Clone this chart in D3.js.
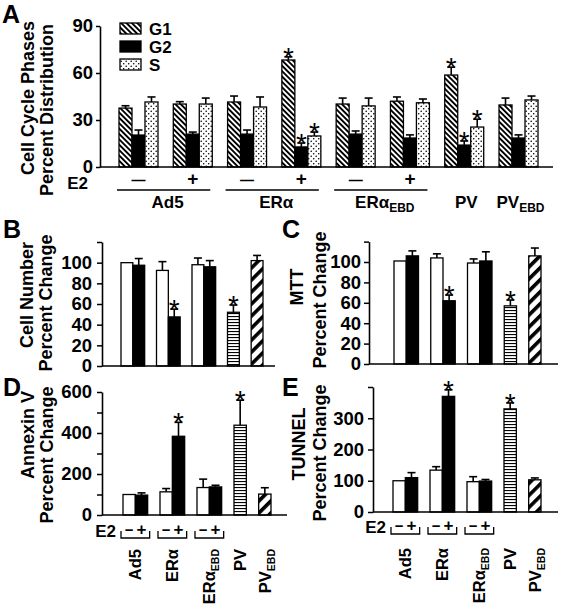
<!DOCTYPE html>
<html><head><meta charset="utf-8">
<script src="https://cdn.jsdelivr.net/npm/d3@7"></script>
<style>
body{margin:0;background:#fff}
svg{display:block}
text{font-family:"Liberation Sans",Arial,sans-serif;font-weight:bold;fill:#000}
</style>
</head><body>
<svg id="chart" width="564" height="604"></svg>
<script>
// ---------- Panel A data ----------
const groupsA = ["Ad5−","Ad5+","ERα−","ERα+","ERαEBD−","ERαEBD+","PV","PVEBD"];
const phases = ["G1","G2","S"];
const g1Values = [37.6, 40.2, 41.5, 68.3, 40.2, 42.0, 58.7, 39.6];
const g1Errors = [1.5, 1.5, 3.8, 2.0, 3.8, 2.7, 5.0, 4.4];
const g2Values = [20.4, 21.0, 21.0, 12.8, 21.0, 18.5, 14.0, 18.5];
const g2Errors = [3.2, 1.3, 2.6, 2.5, 2.0, 2.0, 2.6, 2.0];
const sValues  = [41.5, 40.2, 38.3, 19.8, 39.0, 41.0, 25.5, 42.8];
const sErrors  = [3.2, 3.8, 6.4, 2.5, 5.0, 2.4, 5.0, 2.5];
const starredGroupsA = ["ERα+","PV"];
const ticksA = [0, 30, 60, 90];
const e2SignsA = ["—","+","—","+","—","+"];
const groupLabelMain = ["Ad5","ERα","ERα","PV","PV"];
const groupLabelSub  = ["","","EBD","","EBD"];
const groupLabelMembers = [["Ad5−","Ad5+"],["ERα−","ERα+"],["ERαEBD−","ERαEBD+"],["PV"],["PVEBD"]];

// ---------- Panels B–E data ----------
const barKeys = ["Ad5−","Ad5+","ERα−","ERα+","ERαEBD−","ERαEBD+","PV","PVEBD"];
const cellNumberValues = [100, 97.5, 92.5, 47.5, 98, 96, 52, 102];
const cellNumberErrors = [0, 6.5, 8.5, 7.5, 6.5, 6, 7, 5];
const mttValues = [101, 106, 104, 62, 99, 101, 57, 106];
const mttErrors = [0, 4.9, 4, 5.6, 4, 9, 5.7, 7.7];
const annexinValues = [100, 97, 113, 384, 134, 137, 438, 102];
const annexinErrors = [0, 11, 16, 68, 41, 8, 122, 31];
const tunnelValues = [100, 110, 134, 370, 97, 99, 330, 103];
const tunnelErrors = [0, 16, 11, 21, 16, 5, 19, 6];
const starredBars = ["ERα+","PV"];
const ticksPct = [0, 20, 40, 60, 80, 100, 120];
const ticksAnnexin = [0, 100, 200, 300, 400, 500, 600];
const ticksTunnel = [0, 100, 200, 300, 400];
const bracketPairs = [["Ad5−","Ad5+"],["ERα−","ERα+"],["ERαEBD−","ERαEBD+"]];
const rotLabelMain = ["Ad5","ERα","ERα","PV","PV"];
const rotLabelSub  = ["","","EBD","","EBD"];
const rotLabelMembers = [["Ad5−","Ad5+"],["ERα−","ERα+"],["ERαEBD−","ERαEBD+"],["PV"],["PVEBD"]];

// ---------- setup ----------
const svg = d3.select("#chart");
const defs = svg.append("defs");
function stripes(id, period, width, angle){
  const p = defs.append("pattern").attr("id", id).attr("patternUnits","userSpaceOnUse")
    .attr("width", period).attr("height", period).attr("patternTransform", `rotate(${angle})`);
  p.append("rect").attr("width", period).attr("height", period).attr("fill","#fff");
  p.append("rect").attr("width", width).attr("height", period).attr("fill","#000");
}
stripes("g1pat", 3.8, 1.9, -45);
stripes("ebdpat", 8.5, 3.6, 45);
{
  const p = defs.append("pattern").attr("id","hpat").attr("patternUnits","userSpaceOnUse").attr("width",4).attr("height",3);
  p.append("rect").attr("width",4).attr("height",3).attr("fill","#fff");
  p.append("rect").attr("y",1).attr("width",4).attr("height",1.1).attr("fill","#000");
}
{
  const p = defs.append("pattern").attr("id","dpat").attr("patternUnits","userSpaceOnUse").attr("width",5).attr("height",5);
  p.append("rect").attr("width",5).attr("height",5).attr("fill","#fff");
  p.append("circle").attr("cx",1.2).attr("cy",1.2).attr("r",0.8).attr("fill","#000");
  p.append("circle").attr("cx",3.7).attr("cy",3.7).attr("r",0.8).attr("fill","#000");
}
const phaseFill = {G1:"url(#g1pat)", G2:"#000", S:"url(#dpat)"};
function barFill(k){
  if (k === "PV") return "url(#hpat)";
  if (k === "PVEBD") return "url(#ebdpat)";
  return k.endsWith("+") ? "#000" : "#fff";
}
function styleAxis(g){
  g.selectAll("path.domain").attr("stroke","#000").attr("stroke-width",1.6);
  g.selectAll(".tick line").attr("stroke","#000").attr("stroke-width",1.5);
  g.selectAll(".tick text").style("font-family",'"Liberation Sans",Arial,sans-serif').style("font-weight","bold")
    .style("font-size","18.5px").attr("fill","#000");
}
function rotTitle(x, y, txt, size){
  svg.append("text").attr("transform",`translate(${x},${y}) rotate(-90)`)
    .attr("text-anchor","middle").attr("dy","0.35em").style("font-size",size+"px").text(txt);
}
function errBar(g, cx, yTop, yErr, capW){
  g.append("line").attr("x1",cx).attr("x2",cx).attr("y1",yTop).attr("y2",yErr).attr("stroke","#000").attr("stroke-width",1.6);
  g.append("line").attr("x1",cx-capW/2).attr("x2",cx+capW/2).attr("y1",yErr).attr("y2",yErr).attr("stroke","#000").attr("stroke-width",1.6);
}
function star(g, cx, yErr){
  g.append("text").attr("x",cx).attr("y",yErr+10).attr("text-anchor","middle")
    .style("font-size","28px").style("font-weight","normal").text("*");
}

// ---------- Panel A ----------
{
  const xA = d3.scaleBand().domain(groupsA).range([100,557]).paddingInner(0.282).paddingOuter(0.35);
  const xSub = d3.scaleBand().domain(phases).range([0, xA.bandwidth()]);
  const yA = d3.scaleLinear().domain([0,90]).range([167,26]);
  const series = {G1:[g1Values,g1Errors], G2:[g2Values,g2Errors], S:[sValues,sErrors]};
  const g = svg.append("g");
  phases.forEach(ph => {
    const [vals, errs] = series[ph];
    groupsA.forEach((grp, i) => {
      const x = xA(grp) + xSub(ph), w = xSub.bandwidth();
      g.append("rect").attr("x",x).attr("y",yA(vals[i])).attr("width",w).attr("height",yA(0)-yA(vals[i]))
        .attr("fill",phaseFill[ph]).attr("stroke","#000").attr("stroke-width",1.3);
      errBar(g, x+w/2, yA(vals[i]), yA(vals[i]+errs[i]), 8);
      if (starredGroupsA.includes(grp)) star(g, x+w/2, yA(vals[i]+errs[i]));
    });
  });
  const ax = svg.append("g").attr("transform","translate(100,0)")
    .call(d3.axisLeft(yA).tickValues(ticksA).tickSize(4).tickSizeOuter(0).tickPadding(3));
  styleAxis(ax);
  svg.append("line").attr("x1",100).attr("x2",553).attr("y1",yA(0)).attr("y2",yA(0)).attr("stroke","#000").attr("stroke-width",1.6);
  // legend
  phases.forEach((ph, i) => {
    const ly = [23, 41, 59][i];
    svg.append("rect").attr("x",120).attr("y",ly).attr("width",21).attr("height",11)
      .attr("fill",phaseFill[ph]).attr("stroke","#000").attr("stroke-width",1.3);
    svg.append("text").attr("x",149).attr("y",ly+12).style("font-size","17px").text(ph);
  });
  svg.append("text").attr("x",2).attr("y",23).style("font-size","25px").text("A");
  rotTitle(28, 98, "Cell Cycle Phases", 18);
  rotTitle(47, 110, "Percent Distribution", 18);
  svg.append("text").attr("x",88).attr("y",189).attr("text-anchor","end").style("font-size","17px").text("E2");
  e2SignsA.forEach((s, i) => {
    const grp = groupsA[i];
    svg.append("text").attr("x",xA(grp)+xA.bandwidth()/2).attr("y",185).attr("text-anchor","middle")
      .style("font-size", s === "+" ? "19px" : "14px").text(s);
  });
  groupLabelMembers.forEach((mem, i) => {
    const x0 = xA(mem[0]), x1 = xA(mem[mem.length-1]) + xA.bandwidth();
    if (mem.length > 1) {
      svg.append("line").attr("x1",x0-2).attr("x2",x1-2).attr("y1",190).attr("y2",190).attr("stroke","#000").attr("stroke-width",1.5);
    }
    const t = svg.append("text").attr("x",(x0+x1)/2 + 2).attr("y",208).attr("text-anchor","middle").style("font-size","17px");
    t.append("tspan").text(groupLabelMain[i]);
    if (groupLabelSub[i]) t.append("tspan").attr("dy",4).style("font-size","12px").text(groupLabelSub[i]);
  });
}

// ---------- Panels B–E ----------
const slotDomain = ["Ad5−","Ad5+","gap1","ERα−","ERα+","gap2","ERαEBD−","ERαEBD+","gap3","PV","gap4","PVEBD"];
function panel(cfg, values, errors){
  const x = d3.scaleBand().domain(slotDomain).range(cfg.xRange);
  const y = d3.scaleLinear().domain([0, cfg.max]).range([cfg.y0, cfg.yTop]);
  const g = svg.append("g");
  barKeys.forEach((k, i) => {
    const bx = x(k), w = x.bandwidth();
    g.append("rect").attr("x",bx).attr("y",y(values[i])).attr("width",w).attr("height",y(0)-y(values[i]))
      .attr("fill",barFill(k)).attr("stroke","#000").attr("stroke-width",1.3);
    if (errors[i] > 0) errBar(g, bx+w/2, y(values[i]), y(values[i]+errors[i]), 8);
    if (starredBars.includes(k)) star(g, bx+w/2, y(values[i]+errors[i]));
  });
  const ax = svg.append("g").attr("transform",`translate(${cfg.axisX},0)`)
    .call(d3.axisLeft(y).tickValues(cfg.ticks).tickSize(5).tickSizeOuter(0).tickPadding(cfg.pad)
      .tickFormat(d => cfg.labelled(d) ? d : ""));
  styleAxis(ax);
  svg.append("line").attr("x1",cfg.axisX).attr("x2",cfg.axisEnd).attr("y1",y(0)).attr("y2",y(0)).attr("stroke","#000").attr("stroke-width",1.6);
  svg.append("text").attr("x",cfg.lx).attr("y",cfg.ly).style("font-size","25px").text(cfg.letter);
  rotTitle(cfg.tx[0], cfg.ty[0], cfg.titles[0], 18);
  rotTitle(cfg.tx[1], cfg.ty[1], cfg.titles[1], 18);
  if (cfg.bracketY) {
    svg.append("text").attr("x",cfg.e2x).attr("y",cfg.bracketY-1).attr("text-anchor","end").style("font-size","17px").text("E2");
    bracketPairs.forEach(pair => {
      const x0 = x(pair[0]) - 2, x1 = x(pair[1]) + x.bandwidth() + 2, by = cfg.bracketY;
      svg.append("path").attr("d",`M${x0},${by-7}V${by}H${x1}V${by-7}`).attr("fill","none").attr("stroke","#000").attr("stroke-width",1.3);
      svg.append("text").attr("x",x(pair[0])+x.bandwidth()/2).attr("y",by-3).attr("text-anchor","middle").style("font-size","15px").text("−");
      svg.append("text").attr("x",x(pair[1])+x.bandwidth()/2).attr("y",by-3).attr("text-anchor","middle").style("font-size","17px").text("+");
    });
    rotLabelMembers.forEach((mem, i) => {
      const x0 = x(mem[0]), x1 = x(mem[mem.length-1]) + x.bandwidth();
      const t = svg.append("text").attr("transform",`translate(${(x0+x1)/2},${cfg.labelTop}) rotate(-90)`)
        .attr("text-anchor","end").attr("dy","0.36em").style("font-size","16.5px");
      t.append("tspan").text(rotLabelMain[i]);
      if (rotLabelSub[i]) t.append("tspan").attr("dy",4).style("font-size","10.5px").text(rotLabelSub[i]);
    });
  }
}

panel({letter:"B", lx:3, ly:238, axisX:102, y0:366, yTop:242, max:120, xRange:[121,263], axisEnd:275,
  ticks:ticksPct, labelled:d=>d<=100, pad:5, titles:["Cell Number","Percent Change"], tx:[27,46], ty:[295,303]},
  cellNumberValues, cellNumberErrors);
panel({letter:"C", lx:282, ly:238, axisX:369, y0:364, yTop:241.6, max:120, xRange:[394,541], axisEnd:558,
  ticks:ticksPct, labelled:d=>d<=100, pad:3, titles:["MTT","Percent Change"], tx:[297,320], ty:[287,300]},
  mttValues, mttErrors);
panel({letter:"D", lx:3, ly:396, axisX:102, y0:515, yTop:392, max:600, xRange:[123,271], axisEnd:287,
  ticks:ticksAnnexin, labelled:d=>d%200===0, pad:5, titles:["Annexin V","Percent Change"], tx:[28,47], ty:[435,455],
  bracketY:538, e2x:116, labelTop:549}, annexinValues, annexinErrors);
panel({letter:"E", lx:282, ly:396, axisX:373, y0:512, yTop:387, max:400, xRange:[393,541], axisEnd:558,
  ticks:ticksTunnel, labelled:d=>d<=300, pad:4, titles:["TUNNEL","Percent Change"], tx:[299,320], ty:[444,453],
  bracketY:534, e2x:386, labelTop:548}, tunnelValues, tunnelErrors);
</script>
</body></html>
